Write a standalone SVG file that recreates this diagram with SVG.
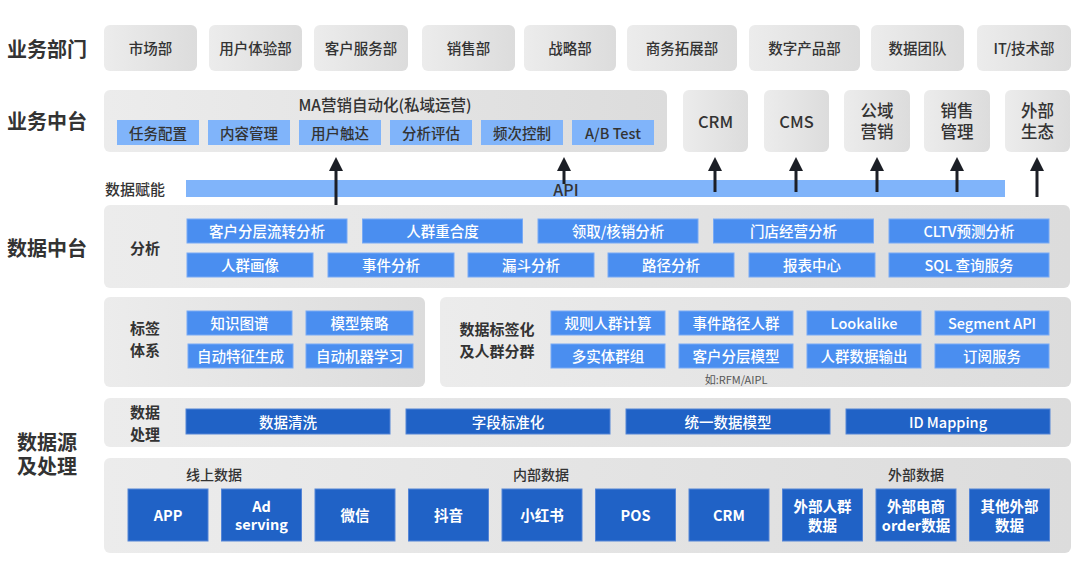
<svg xmlns="http://www.w3.org/2000/svg" width="1080" height="566" viewBox="0 0 1080 566">
<defs>
<linearGradient id="gg" x1="0" y1="0" x2="1" y2="0">
<stop offset="0" stop-color="#ececec"/>
<stop offset="1" stop-color="#dcdcdc"/>
</linearGradient>
<marker id="ah" markerUnits="userSpaceOnUse" markerWidth="14" markerHeight="14" viewBox="0 0 14 14" refX="1" refY="7" orient="auto">
<path d="M0,0 L14,7 L0,14 z" fill="#1c1f26"/>
</marker>
<style>
text{font-family:"Noto Sans CJK SC","Noto Sans",sans-serif;dominant-baseline:central;text-anchor:middle}
.gp{fill:url(#gg)}
.lb{fill:#80b4fa}
.mb{fill:#4a8ef0;stroke:#78aaf5;stroke-width:1}
.db{fill:#2062c6;stroke:#5585d6;stroke-width:1}
.h{font-size:20px;font-weight:700;fill:#333;text-anchor:start}
.dk{font-size:14.5px;font-weight:500;fill:#333}
.lab{font-size:15px;font-weight:700;fill:#333}
.w{font-size:14.5px;font-weight:500;fill:#fff}
.wb{font-size:14.5px;font-weight:700;fill:#fff}
.sys{font-size:16.5px;font-weight:500;fill:#333}
.arr{stroke:#1c1f26;stroke-width:3;fill:none;marker-end:url(#ah)}
</style>
</defs>
<rect width="1080" height="566" fill="#fff"/>

<g id="headers">
<text class="h" x="7" y="48">业务部门</text>
<text class="h" x="7" y="120">业务中台</text>
<text class="h" x="7" y="247">数据中台</text>
<text class="h" x="17" y="441">数据源<tspan x="17" dy="24">及处理</tspan></text>
</g>

<g id="departments">
<g id="d1"><rect class="gp" x="104" y="25" width="93" height="46" rx="6"/><text class="dk" x="150.5" y="47.5">市场部</text></g>
<g id="d2"><rect class="gp" x="209" y="25" width="93" height="46" rx="6"/><text class="dk" x="255.5" y="47.5">用户体验部</text></g>
<g id="d3"><rect class="gp" x="314" y="25" width="94" height="46" rx="6"/><text class="dk" x="361" y="47.5">客户服务部</text></g>
<g id="d4"><rect class="gp" x="422" y="25" width="93" height="46" rx="6"/><text class="dk" x="468.5" y="47.5">销售部</text></g>
<g id="d5"><rect class="gp" x="524" y="25" width="92" height="46" rx="6"/><text class="dk" x="570" y="47.5">战略部</text></g>
<g id="d6"><rect class="gp" x="627" y="25" width="110" height="46" rx="6"/><text class="dk" x="682" y="47.5">商务拓展部</text></g>
<g id="d7"><rect class="gp" x="749" y="25" width="111" height="46" rx="6"/><text class="dk" x="804.5" y="47.5">数字产品部</text></g>
<g id="d8"><rect class="gp" x="871" y="25" width="93" height="46" rx="6"/><text class="dk" x="917.5" y="47.5">数据团队</text></g>
<g id="d9"><rect class="gp" x="977" y="25" width="94" height="46" rx="6"/><text class="dk" x="1024" y="47.5">IT/技术部</text></g>
</g>

<g id="ma">
<rect class="gp" x="104" y="90" width="563" height="62" rx="6"/>
<text x="385" y="104" style="font-size:15.5px;font-weight:500;fill:#333">MA营销自动化(私域运营)</text>
<rect class="lb" x="117" y="120" width="82" height="25"/><text class="dk" x="158" y="132">任务配置</text>
<rect class="lb" x="208" y="120" width="82" height="25"/><text class="dk" x="249" y="132">内容管理</text>
<rect class="lb" x="299" y="120" width="82" height="25"/><text class="dk" x="340" y="132">用户触达</text>
<rect class="lb" x="390" y="120" width="82" height="25"/><text class="dk" x="431" y="132">分析评估</text>
<rect class="lb" x="481" y="120" width="82" height="25"/><text class="dk" x="522" y="132">频次控制</text>
<rect class="lb" x="572" y="120" width="82" height="25"/><text class="dk" x="613" y="132">A/B Test</text>
</g>

<g id="crm"><rect class="gp" x="683" y="90" width="65" height="62" rx="6"/><text class="sys" x="715.5" y="120.5">CRM</text></g>
<g id="cms"><rect class="gp" x="764" y="90" width="65" height="62" rx="6"/><text class="sys" x="796.5" y="120.5">CMS</text></g>
<g id="pub"><rect class="gp" x="844" y="90" width="66" height="62" rx="6"/><text class="sys" x="877" y="110">公域<tspan x="877" dy="21">营销</tspan></text></g>
<g id="salesmgmt"><rect class="gp" x="924" y="90" width="66" height="62" rx="6"/><text class="sys" x="957" y="110">销售<tspan x="957" dy="21">管理</tspan></text></g>
<g id="ext"><rect class="gp" x="1005" y="90" width="65" height="62" rx="6"/><text class="sys" x="1037.5" y="110">外部<tspan x="1037.5" dy="21">生态</tspan></text></g>

<g id="api">
<text x="105" y="188.5" style="font-size:15px;font-weight:500;fill:#333;text-anchor:start">数据赋能</text>
<rect class="lb" x="186" y="180" width="819" height="17"/>
</g>

<g id="connectors">
<line class="arr" x1="336" y1="205" x2="336" y2="170"/>
<line class="arr" x1="564" y1="184" x2="564" y2="170"/>
<line class="arr" x1="715" y1="192" x2="715" y2="170"/>
<line class="arr" x1="796" y1="192" x2="796" y2="170"/>
<line class="arr" x1="877" y1="192" x2="877" y2="170"/>
<line class="arr" x1="957" y1="192" x2="957" y2="170"/>
<line class="arr" x1="1037" y1="197" x2="1037" y2="170"/>
</g>
<text x="566" y="188.5" style="font-size:16px;font-weight:500;fill:#333">API</text>

<g id="analysis">
<rect class="gp" x="104" y="205" width="966" height="83" rx="6"/>
<text class="lab" x="145" y="247">分析</text>
<rect class="mb" x="187" y="219" width="160" height="24"/><text class="w" x="267" y="230.5">客户分层流转分析</text>
<rect class="mb" x="362.5" y="219" width="160" height="24"/><text class="w" x="442.5" y="230.5">人群重合度</text>
<rect class="mb" x="538" y="219" width="160" height="24"/><text class="w" x="618" y="230.5">领取/核销分析</text>
<rect class="mb" x="713.5" y="219" width="160" height="24"/><text class="w" x="793.5" y="230.5">门店经营分析</text>
<rect class="mb" x="889" y="219" width="160" height="24"/><text class="w" x="969" y="230.5">CLTV预测分析</text>
<rect class="mb" x="187" y="253" width="126" height="24"/><text class="w" x="250" y="264.5">人群画像</text>
<rect class="mb" x="328" y="253" width="126" height="24"/><text class="w" x="391" y="264.5">事件分析</text>
<rect class="mb" x="468" y="253" width="126" height="24"/><text class="w" x="531" y="264.5">漏斗分析</text>
<rect class="mb" x="608" y="253" width="126" height="24"/><text class="w" x="671" y="264.5">路径分析</text>
<rect class="mb" x="749" y="253" width="126" height="24"/><text class="w" x="812" y="264.5">报表中心</text>
<rect class="mb" x="889" y="253" width="160" height="24"/><text class="w" x="969" y="264.5">SQL 查询服务</text>
</g>

<g id="tags">
<rect class="gp" x="104" y="297" width="321" height="90" rx="6"/>
<text class="lab" x="145" y="327">标签<tspan x="145" dy="22">体系</tspan></text>
<rect class="mb" x="187" y="311" width="105" height="24"/><text class="w" x="239.5" y="322.5">知识图谱</text>
<rect class="mb" x="306" y="311" width="107" height="24"/><text class="w" x="359.5" y="322.5">模型策略</text>
<rect class="mb" x="188" y="344" width="105" height="24"/><text class="w" x="240.5" y="355.5">自动特征生成</text>
<rect class="mb" x="306" y="344" width="107" height="24"/><text class="w" x="359.5" y="355.5">自动机器学习</text>
</g>

<g id="segment">
<rect class="gp" x="440" y="297" width="631" height="90" rx="6"/>
<text class="lab" x="497" y="328">数据标签化<tspan x="497" dy="22">及人群分群</tspan></text>
<rect class="mb" x="551" y="311" width="114" height="24"/><text class="w" x="608" y="322.5">规则人群计算</text>
<rect class="mb" x="679" y="311" width="114" height="24"/><text class="w" x="736" y="322.5">事件路径人群</text>
<rect class="mb" x="807" y="311" width="114" height="24"/><text class="w" x="864" y="322.5">Lookalike</text>
<rect class="mb" x="935" y="311" width="114" height="24"/><text class="w" x="992" y="322.5">Segment API</text>
<rect class="mb" x="551" y="344" width="114" height="24"/><text class="w" x="608" y="355.5">多实体群组</text>
<rect class="mb" x="679" y="344" width="114" height="24"/><text class="w" x="736" y="355.5">客户分层模型</text>
<rect class="mb" x="807" y="344" width="114" height="24"/><text class="w" x="864" y="355.5">人群数据输出</text>
<rect class="mb" x="935" y="344" width="114" height="24"/><text class="w" x="992" y="355.5">订阅服务</text>
<text x="736" y="378.5" style="font-size:11px;fill:#555">如:RFM/AIPL</text>
</g>

<g id="processing">
<rect class="gp" x="104" y="398" width="967" height="49" rx="6"/>
<text class="lab" x="145" y="411.5">数据<tspan x="145" dy="21">处理</tspan></text>
<rect class="db" x="186" y="409" width="204" height="25"/><text class="w" x="288" y="421">数据清洗</text>
<rect class="db" x="406" y="409" width="204" height="25"/><text class="w" x="508" y="421">字段标准化</text>
<rect class="db" x="626" y="409" width="204" height="25"/><text class="w" x="728" y="421">统一数据模型</text>
<rect class="db" x="846" y="409" width="204" height="25"/><text class="w" x="948" y="421">ID Mapping</text>
</g>

<g id="sources">
<rect class="gp" x="104" y="458" width="967" height="95" rx="6"/>
<text x="214" y="473.5" style="font-size:14px;font-weight:500;fill:#333">线上数据</text>
<text x="541" y="473.5" style="font-size:14px;font-weight:500;fill:#333">内部数据</text>
<text x="916" y="473.5" style="font-size:14px;font-weight:500;fill:#333">外部数据</text>
<rect class="db" x="128" y="489" width="80" height="52"/><text class="wb" x="168" y="514.5">APP</text>
<rect class="db" x="221.5" y="489" width="80" height="52"/><text class="wb" x="261.5" y="505">Ad<tspan x="261.5" dy="18">serving</tspan></text>
<rect class="db" x="315" y="489" width="80" height="52"/><text class="wb" x="355" y="514.5">微信</text>
<rect class="db" x="408.5" y="489" width="80" height="52"/><text class="wb" x="448.5" y="514.5">抖音</text>
<rect class="db" x="502" y="489" width="80" height="52"/><text class="wb" x="542" y="514.5">小红书</text>
<rect class="db" x="595.5" y="489" width="80" height="52"/><text class="wb" x="635.5" y="514.5">POS</text>
<rect class="db" x="689" y="489" width="80" height="52"/><text class="wb" x="729" y="514.5">CRM</text>
<rect class="db" x="782.5" y="489" width="80" height="52"/><text class="wb" x="822.5" y="505.5">外部人群<tspan x="822.5" dy="18">数据</tspan></text>
<rect class="db" x="876" y="489" width="80" height="52"/><text class="wb" x="916" y="505.5">外部电商<tspan x="916" dy="18">order数据</tspan></text>
<rect class="db" x="969.5" y="489" width="80" height="52"/><text class="wb" x="1009.5" y="505.5">其他外部<tspan x="1009.5" dy="18">数据</tspan></text>
</g>
</svg>
